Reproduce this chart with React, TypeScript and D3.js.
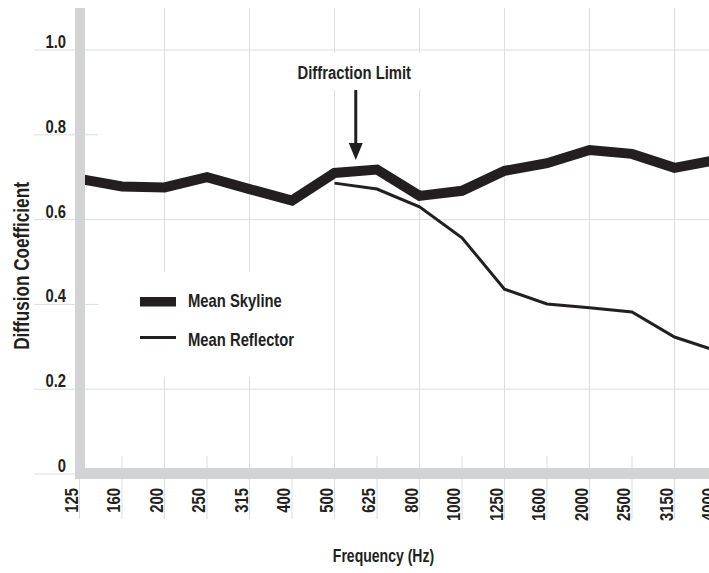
import React from "react";
import * as d3 from "d3";

const categories = ["125","160","200","250","315","400","500","625","800","1000","1250","1600","2000","2500","3150","4000"];
const skyline = [0.696,0.678,0.676,0.700,0.672,0.645,0.710,0.718,0.656,0.668,0.715,0.733,0.764,0.755,0.722,0.741];
const reflectorCats = ["500","625","800","1000","1250","1600","2000","2500","3150","4000"];
const reflector = [0.686,0.672,0.630,0.557,0.436,0.401,0.392,0.382,0.323,0.290];
const yTicks = [0, 0.2, 0.4, 0.6, 0.8, 1.0];
const yTickLabels = ["0", "0.2", "0.4", "0.6", "0.8", "1.0"];
const fullYTicks = [0, 0.2, 0.6, 1.0];

const W = 709, H = 573;
const FONT = "'Liberation Sans', Arial, sans-serif";
const INK = "#231f20";
const BAR = "#d1d3d4";
const GRID = "#dcdddd";
const SX = 0.78;

function NText(props: { x: number; y: number; rot?: number; size: number; anchor?: string; children: React.ReactNode }) {
  const { x, y, rot = 0, size, anchor = "start", children } = props;
  return (
    <text
      transform={`translate(${x},${y}) rotate(${rot}) scale(${SX},1)`}
      textAnchor={anchor}
      fontFamily={FONT}
      fontWeight="bold"
      fontSize={size}
      fill={INK}
    >
      {children}
    </text>
  );
}

export default function App() {
  const x = d3.scalePoint<string>().domain(categories).range([79.5, 717]);
  const y = d3.scaleLinear().domain([0, 1]).range([474, 50]);
  const lineGen = d3.line<[number, number]>();
  const refPath = lineGen(reflector.map((v, i) => [x(reflectorCats[i])!, y(v)] as [number, number]));
  const skyPath = lineGen(skyline.map((v, i) => [x(categories[i])!, y(v)] as [number, number]));

  const gaps: Record<string, [number, number]> = {
    "200": [272, 377], "315": [272, 377], "500": [53, 90], "800": [53, 90],
  };
  const arrowX = (x("500")! + x("625")!) / 2;

  return (
    <svg width={W} height={H} style={{ position: "absolute", left: 0, top: 0, background: "#fff" }}>
      {yTicks.map((t) => (
        <line key={"h" + t} x1={34} x2={fullYTicks.includes(t) ? W : 98} y1={y(t)} y2={y(t)} stroke={GRID} strokeWidth={1} />
      ))}
      {categories.map((c, i) => {
        const xx = x(c)!;
        const els: React.ReactElement[] = [];
        if (i > 0) {
          if (i % 2 === 0) {
            const g = gaps[c];
            if (g) {
              els.push(<line key={c + "a"} x1={xx} x2={xx} y1={8} y2={g[0]} stroke={GRID} />);
              els.push(<line key={c + "b"} x1={xx} x2={xx} y1={g[1]} y2={468} stroke={GRID} />);
            } else {
              els.push(<line key={c + "a"} x1={xx} x2={xx} y1={8} y2={468} stroke={GRID} />);
            }
          } else {
            els.push(<line key={c + "a"} x1={xx} x2={xx} y1={456} y2={468} stroke={GRID} />);
          }
        }
        els.push(<line key={c + "c"} x1={xx} x2={xx} y1={479} y2={519} stroke={GRID} />);
        return <g key={c}>{els}</g>;
      })}
      <path d={refPath || ""} fill="none" stroke={INK} strokeWidth={3} strokeLinejoin="miter" />
      <path d={skyPath || ""} fill="none" stroke={INK} strokeWidth={10} strokeLinejoin="miter" />
      <rect x={75} y={8} width={10} height={471} fill={BAR} />
      <rect x={75} y={468} width={W - 75} height={11} fill={BAR} />
      {yTicks.map((t, i) => (
        <NText key={"yl" + t} x={66} y={y(t) - 2} size={19} anchor="end">{yTickLabels[i]}</NText>
      ))}
      {categories.map((c) => (
        <NText key={"xl" + c} x={x(c)! - 2} y={488} rot={-90} size={19} anchor="end">{c}</NText>
      ))}
      <NText x={29} y={266} rot={-90} size={22} anchor="middle">Diffusion Coefficient</NText>
      <NText x={383.5} y={562} size={18} anchor="middle">Frequency (Hz)</NText>
      <NText x={arrowX - 1.5} y={79} size={19} anchor="middle">Diffraction Limit</NText>
      <line x1={arrowX} x2={arrowX} y1={90} y2={146} stroke={INK} strokeWidth={3} />
      <path d={`M${arrowX - 7},143 L${arrowX + 7},143 L${arrowX},160 Z`} fill={INK} />
      <rect x={140} y={297} width={36} height={9.5} fill={INK} />
      <rect x={140} y={336} width={36} height={3} fill={INK} />
      <NText x={188} y={307} size={19}>Mean Skyline</NText>
      <NText x={188} y={346} size={19}>Mean Reflector</NText>
    </svg>
  );
}
